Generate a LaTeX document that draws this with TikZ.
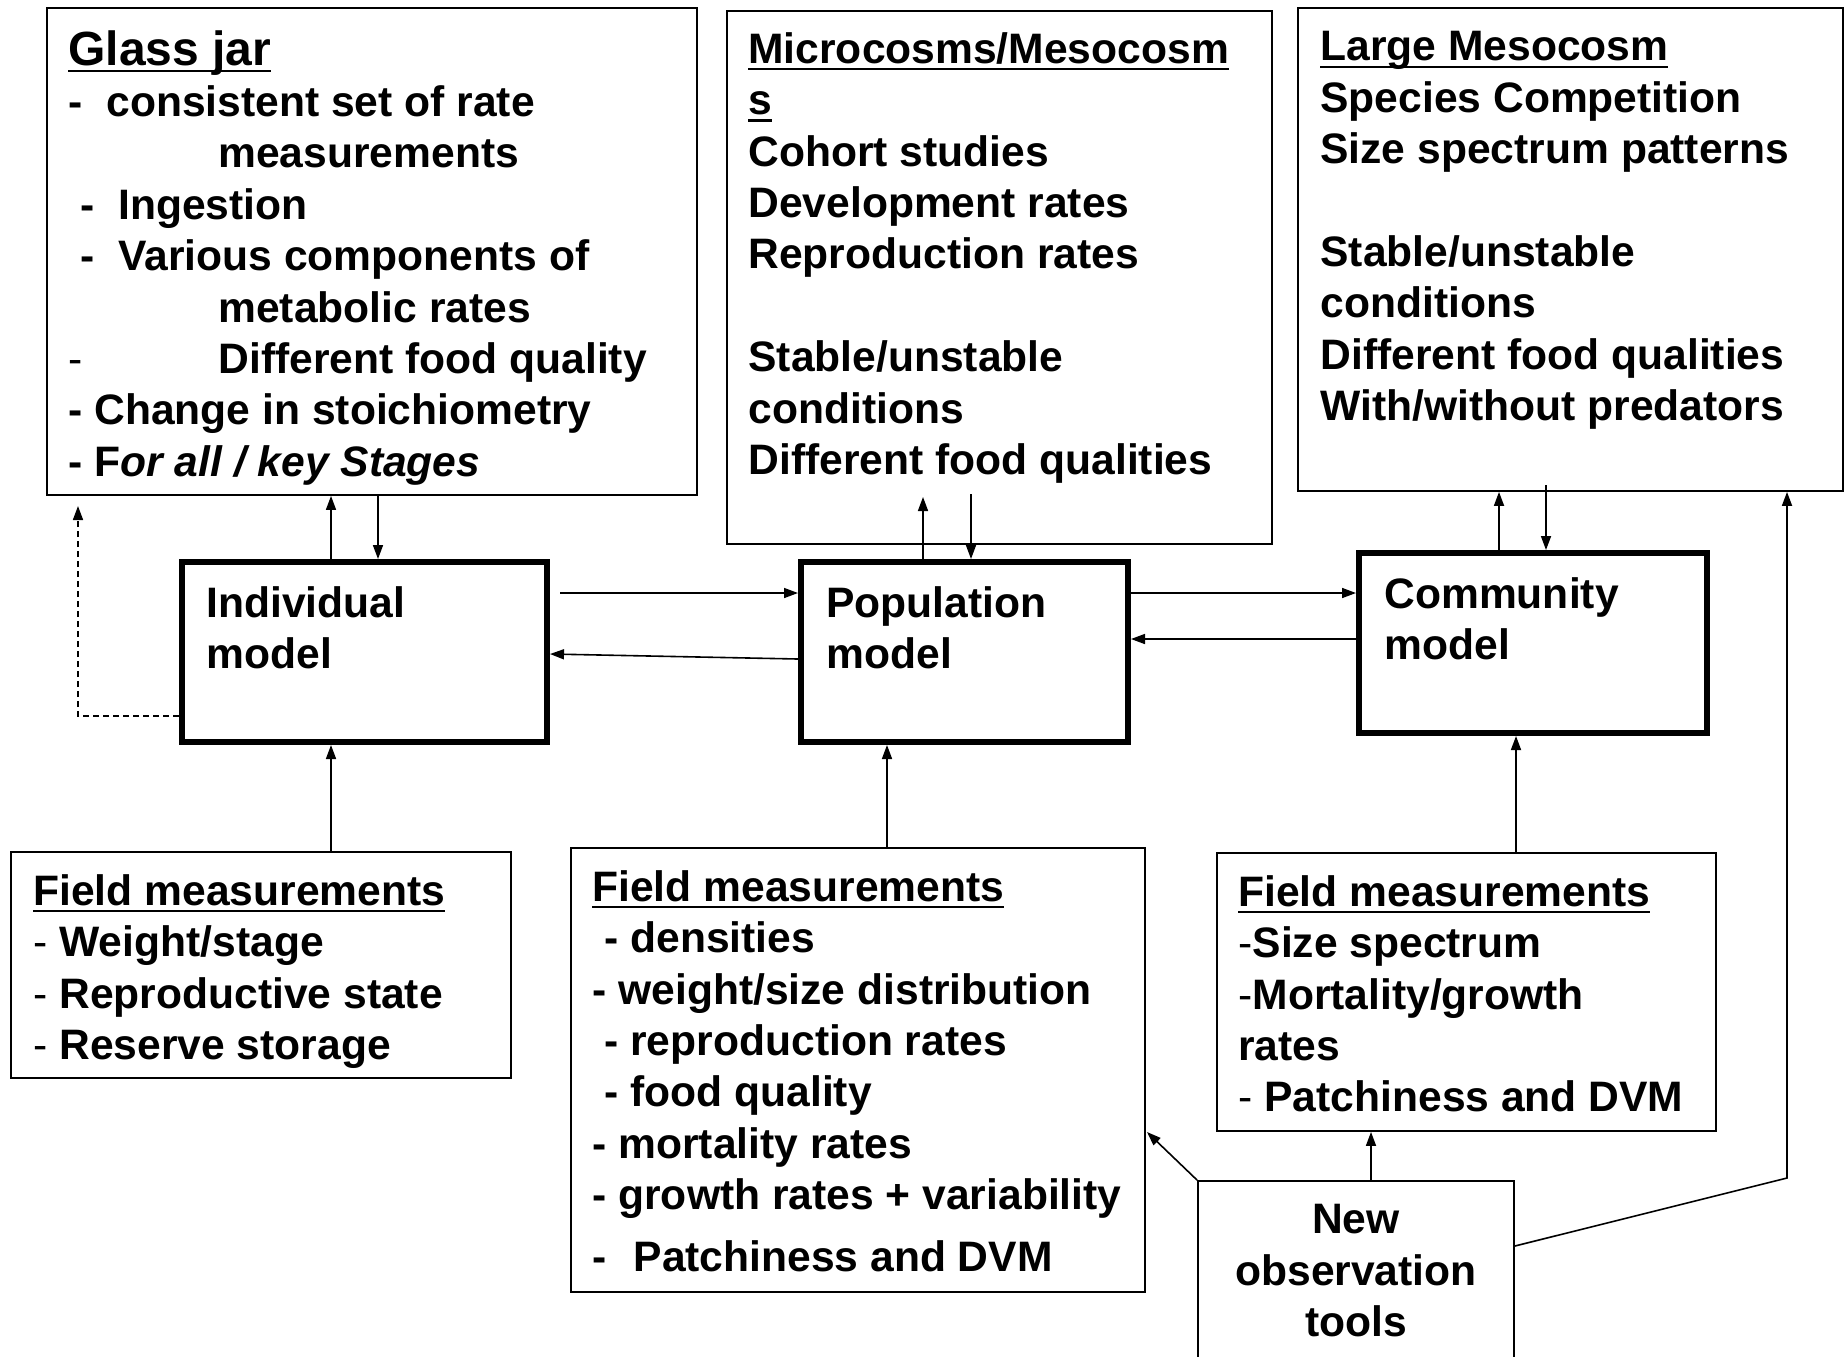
\documentclass[tikz,border=0pt]{standalone}
\usepackage{fontspec}
\setmainfont{Liberation Sans}
\usetikzlibrary{arrows.meta}
\newsavebox{\hdlbox}
\newcommand{\hdl}[1]{\sbox{\hdlbox}{#1}\rlap{\rule[-3.5pt]{\wd\hdlbox}{1.1pt}}\usebox{\hdlbox}}

\begin{document}
\begin{tikzpicture}[x=0.5pt,y=-0.5pt,>={Triangle[length=7pt,width=5pt]},
    thinbox/.style={draw,line width=0.9pt,inner sep=0pt},
    modelbox/.style={draw,line width=3pt,inner sep=0pt},
    txt/.style={anchor=north west,inner sep=0pt,align=left,
        font=\fontsize{21.3}{25.7}\selectfont\bfseries},
    link/.style={line width=0.8pt}]
\useasboundingbox (0,0) rectangle (1845,1356);
\clip (0,0) rectangle (1845,1356);

% experiments
\node[thinbox,minimum width=325pt,minimum height=243.5pt] (jar) at (372,251.5) {};
\node[thinbox,minimum width=272.5pt,minimum height=266.5pt] (micro) at (999.5,277.5) {};
\node[thinbox,minimum width=272.5pt,minimum height=241.5pt] (large) at (1570.5,249.5) {};
\node[txt] (jartxt) at (68,30) {{\fontsize{24}{25.7}\selectfont\hdl{Glass jar}}\\
    \makebox[19pt][l]{-}consistent set of rate\\
    \hspace*{75pt}measurements\\
    \hspace*{6pt}\makebox[19pt][l]{-}Ingestion\\
    \hspace*{6pt}\makebox[19pt][l]{-}Various components of\\
    \hspace*{75pt}metabolic rates\\
    \makebox[75pt][l]{\mdseries -}Different food quality\\
    - Change in stoichiometry\\
    - F\textit{or all / key Stages}};
\node[txt] (microtxt) at (748,32) {\hdl{Microcosms/Mesocosm}\\
    \hdl{s}\\
    Cohort studies\\
    Development rates\\
    Reproduction rates\\
    \mbox{}\\
    Stable/unstable\\
    conditions\\
    Different food qualities};
\node[txt] (largetxt) at (1320,31) {\hdl{Large Mesocosm}\\
    Species Competition\\
    Size spectrum patterns\\
    \mbox{}\\
    Stable/unstable\\
    conditions\\
    Different food qualities\\
    With/without predators};

% models
\node[modelbox,minimum width=182.5pt,minimum height=90pt] (ind) at (364.5,652) {};
\node[modelbox,minimum width=163.5pt,minimum height=90pt] (pop) at (964.5,652) {};
\node[modelbox,minimum width=174pt,minimum height=90pt] (com) at (1533,643) {};
\node[txt] (indtxt) at (206,586) {Individual\\model};
\node[txt] (poptxt) at (826,586) {Population\\model};
\node[txt] (comtxt) at (1384,577) {Community\\model};

% field measurements
\node[thinbox,minimum width=250pt,minimum height=113pt] (f1) at (261,965) {};
\node[thinbox,minimum width=287pt,minimum height=222pt] (f2) at (858,1070) {};
\node[thinbox,minimum width=249.5pt,minimum height=139pt] (f3) at (1466.5,992) {};
\node[thinbox,minimum width=158pt,minimum height=110pt] (obs) at (1356,1291) {};
\node[txt] (f1txt) at (33,874) {\hdl{Field measurements}\\
    {\mdseries -} Weight/stage\\
    {\mdseries -} Reproductive state\\
    {\mdseries -} Reserve storage};
\node[txt] (f2txt) at (592,870) {\hdl{Field measurements}\\
    \hspace*{6pt}- densities\\
    - weight/size distribution\\
    \hspace*{6pt}- reproduction rates\\
    \hspace*{6pt}- food quality\\
    - mortality rates\\
    - growth rates + variability\\[5pt]
    \makebox[20.6pt][l]{-}Patchiness and DVM};
\node[txt] (f3txt) at (1238,875) {\hdl{Field measurements}\\
    {\mdseries -}Size spectrum\\
    {\mdseries -}Mortality/growth\\
    rates\\
    {\mdseries -} Patchiness and DVM};
\node[txt,anchor=north,align=center] (obstxt) at (1356,1204) {New\\observation\\tools};

% free ends
\coordinate (jarin) at (78,506);
\coordinate (indout) at (560,593);
\coordinate (popup) at (923,497);
\coordinate (popdown) at (971,494);
\coordinate (comdown) at (1546,485);
\coordinate (f2in) at (1147,1132);
\coordinate (obsbend) at (1787,1178);

\draw[link,->] (ind.north -| 331,0) -- (jar.south -| 331,0);
\draw[link,->] (jar.south -| 378,0) -- (ind.north -| 378,0);
\draw[link,dash pattern=on 3pt off 2pt,->] (ind.west |- 0,716) -| (jarin);
\draw[link,->] (indout) -- (pop.west |- indout);
\draw[link,->] (pop.west |- 0,659) -- (ind.east |- 0,654);
\draw[link,->] (pop.north -| popup) -- (popup);
\draw[link,->] (popdown) -- (pop.north -| popdown);
\draw[link,->] (pop.east |- 0,593) -- (com.west |- 0,593);
\draw[link,->] (com.west |- 0,639) -- (pop.east |- 0,639);
\draw[link,->] (com.north -| 1499,0) -- (large.south -| 1499,0);
\draw[link,->] (comdown) -- (com.north -| comdown);
\draw[link,->] (f1.north -| 331,0) -- (ind.south -| 331,0);
\draw[link,->] (f2.north -| 887,0) -- (pop.south -| 887,0);
\draw[link,->] (f3.north -| 1516,0) -- (com.south -| 1516,0);
\draw[link,->] (obs.north -| 1371,0) -- (f3.south -| 1371,0);
\draw[link,->] (obs.north west) -- (f2in);
\draw[link,->] (obs.east |- 0,1246) -- (obsbend) -- (large.south -| obsbend);
\end{tikzpicture}
\end{document}
